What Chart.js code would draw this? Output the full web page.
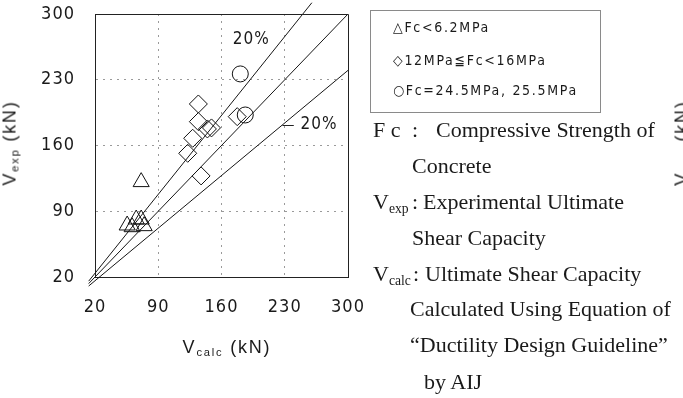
<!DOCTYPE html>
<html>
<head>
<meta charset="utf-8">
<script src="https://cdn.jsdelivr.net/npm/chart.js@4/dist/chart.umd.min.js"></script>
<style>
  html, body { margin: 0; padding: 0; background: #fff; }
  #wrap { position: relative; width: 683px; height: 398px; overflow: hidden; background: #fff; }
  #chart { position: absolute; left: 0; top: 0; }
  .sans { font-family: "Liberation Sans", Arial, sans-serif; color: #1a1a1a; }
  .cond { font-family: "DejaVu Sans Condensed", "Liberation Sans Narrow", "DejaVu Sans", sans-serif; color: #1a1a1a; }
  .serif { font-family: "Liberation Serif", "Times New Roman", serif; color: #1a1a1a; }
  .sub { font-size: 0.62em; position: relative; top: 0.28em; }
  .rot { position: absolute; white-space: nowrap; transform: translate(-50%, -50%) rotate(-90deg); font-size: 18px; letter-spacing: 1.8px; }
  .axt { position: absolute; white-space: nowrap; transform: translate(-50%, -50%); font-size: 18px; letter-spacing: 1.8px; }
  #legendBox { position: absolute; left: 370px; top: 10px; width: 231px; height: 103px; box-sizing: border-box; border: 1px solid #8a8a8a; }
  #legendBox .row { position: absolute; left: 22px; white-space: nowrap; font-size: 14px; letter-spacing: 1.7px; transform: translateY(-50%); }
  .note { position: absolute; white-space: nowrap; font-size: 22px; transform: translateY(-50%); }
</style>
</head>
<body>
<div id="wrap">
  <canvas id="chart" width="683" height="398"></canvas>

  <!-- axis titles -->
  <div class="rot sans" style="left:10px; top:143px;">V<span class="sub">exp</span> (kN)</div>
  <div class="axt sans" style="left:227px; top:347px;">V<span class="sub">calc</span> (kN)</div>
  <!-- neighbouring panel's axis title, cut by the page edge -->
  <div class="rot sans" style="left:682px; top:143px;">V<span class="sub">exp</span> (kN)</div>

  <!-- symbol key -->
  <div id="legendBox" class="cond">
    <div class="row" style="top:16px;">△Fc&lt;6.2MPa</div>
    <div class="row" style="top:49px;">◇12MPa≦Fc&lt;16MPa</div>
    <div class="row" style="top:79px;">○Fc=24.5MPa, 25.5MPa</div>
  </div>

  <!-- notation -->
  <div class="note serif" style="left:373px; top:130px;">F c</div>
  <div class="note serif" style="left:412px; top:130px;">:</div>
  <div class="note serif" style="left:436px; top:130px;">Compressive Strength of</div>
  <div class="note serif" style="left:412px; top:166px;">Concrete</div>
  <div class="note serif" style="left:373px; top:202px;">V<span class="sub">exp</span></div>
  <div class="note serif" style="left:412px; top:202px;">:</div>
  <div class="note serif" style="left:423px; top:202px;">Experimental Ultimate</div>
  <div class="note serif" style="left:412px; top:238px;">Shear Capacity</div>
  <div class="note serif" style="left:373px; top:274px;">V<span class="sub">calc</span></div>
  <div class="note serif" style="left:413px; top:274px;">:</div>
  <div class="note serif" style="left:425px; top:274px;">Ultimate Shear Capacity</div>
  <div class="note serif" style="left:410px; top:309px;">Calculated Using Equation of</div>
  <div class="note serif" style="left:410px; top:345px;">“Ductility Design Guideline”</div>
  <div class="note serif" style="left:424px; top:382px;">by AIJ</div>
</div>

<script>
// ---- data (kN) ----
// Fc < 6.2 MPa
const triCalc = [55.6, 61.1, 65.6, 71.1, 74.4, 71.1];
const triExp  = [75.0, 73.2, 81.4, 81.4, 74.3, 121.2];
// 12 MPa <= Fc < 16 MPa
const diaCalc = [134.4, 134.4, 144.4, 148.9, 128.1, 122.6, 137.4, 177.4];
const diaExp  = [204.2, 185.4, 177.6, 178.7, 167.7, 151.7, 127.6, 190.7];
// Fc = 24.5 MPa, 25.5 MPa
const cirCalc = [180.8, 186.3];
const cirExp  = [236.2, 192.5];

// axis ticks (both axes)
const tickValues = [20, 90, 160, 230, 300];

// reference lines: Vexp = ratio * Vcalc  (+20 %, equal, -20 %)
const lineRatios = [1.2, 1.0, 0.8];
const lineStartCalc = 13;
const lineEndCalc = [260, 300, 300];

const pairs = (xs, ys) => xs.map((v, i) => ({ x: v, y: ys[i] }));
const refLine = (r, i) => ([
  { x: lineStartCalc, y: r * lineStartCalc },
  { x: lineEndCalc[i], y: r * lineEndCalc[i] }
]);

const tickFont = { family: '"DejaVu Sans Condensed", "Liberation Sans Narrow", "DejaVu Sans", sans-serif', size: 18 };
const ink = '#1a1a1a';
const gridColor = c => (c.tick && (c.tick.value === 20 || c.tick.value === 300)) ? 'rgba(0,0,0,0)' : '#9a9a9a';

const frameAndLabels = {
  id: 'frameAndLabels',
  beforeDraw(chart) { chart.ctx.letterSpacing = '1px'; },
  beforeDatasetsDraw(chart) { chart.ctx.letterSpacing = '0px'; },
  afterDatasetsDraw(chart) {
    const { ctx, chartArea: a, scales: { x, y } } = chart;
    ctx.save();
    // closing frame (top and right)
    ctx.strokeStyle = '#222';
    ctx.lineWidth = 1;
    ctx.beginPath();
    ctx.moveTo(Math.round(a.left), Math.round(a.top) + 0.5);
    ctx.lineTo(Math.round(a.right) + 0.5, Math.round(a.top) + 0.5);
    ctx.lineTo(Math.round(a.right) + 0.5, Math.round(a.bottom));
    ctx.stroke();

    // ±20 % labels
    ctx.letterSpacing = '1px';
    ctx.font = '17px "DejaVu Sans Condensed", "DejaVu Sans", sans-serif';
    ctx.fillStyle = ink;
    ctx.textAlign = 'center';
    ctx.textBaseline = 'middle';
    ctx.fillText('20%', x.getPixelForValue(193), y.getPixelForValue(272.5));
    // leader from the -20 % line to its label
    const yl = y.getPixelForValue(182);
    ctx.beginPath();
    ctx.moveTo(x.getPixelForValue(182 / 0.8), Math.round(yl) + 0.5);
    ctx.lineTo(x.getPixelForValue(240), Math.round(yl) + 0.5);
    ctx.stroke();
    ctx.fillText('20%', x.getPixelForValue(268), yl);
    ctx.restore();
  }
};

const lineStyle = { showLine: true, borderColor: '#161616', borderWidth: 1, pointRadius: 0, clip: false, fill: false };
const markStyle = { borderColor: '#111', backgroundColor: 'rgba(255,255,255,0)', pointBorderWidth: 1, showLine: false };

new Chart(document.getElementById('chart'), {
  type: 'scatter',
  data: {
    datasets: [
      ...lineRatios.map((r, i) => Object.assign({ data: refLine(r, i) }, lineStyle)),
      Object.assign({ label: 'Fc<6.2MPa', data: pairs(triCalc, triExp), pointStyle: 'triangle', pointRadius: 9.3 }, markStyle),
      Object.assign({ label: '12MPa≦Fc<16MPa', data: pairs(diaCalc, diaExp), pointStyle: 'rectRot', pointRadius: 9 }, markStyle),
      Object.assign({ label: 'Fc=24.5MPa, 25.5MPa', data: pairs(cirCalc, cirExp), pointStyle: 'circle', pointRadius: 8 }, markStyle)
    ]
  },
  options: {
    responsive: false,
    animation: false,
    devicePixelRatio: 1,
    layout: { padding: { left: 0, top: 14, right: 335, bottom: 81 } },
    plugins: { legend: { display: false }, tooltip: { enabled: false } },
    scales: {
      x: {
        type: 'linear', min: 20, max: 300,
        afterBuildTicks: s => { s.ticks = tickValues.map(v => ({ value: v })); },
        afterFit: s => { s.height = 40; s.paddingLeft = 0; s.paddingRight = 0; },
        ticks: { font: tickFont, color: ink, padding: 20, maxRotation: 0 },
        grid: { drawTicks: false, color: gridColor },
        border: { display: true, color: '#222', width: 1, dash: [2, 5] }
      },
      y: {
        type: 'linear', min: 20, max: 300,
        afterBuildTicks: s => { s.ticks = tickValues.map(v => ({ value: v })); },
        afterFit: s => { s.width = 95; s.paddingTop = 0; s.paddingBottom = 0; },
        ticks: { font: tickFont, color: ink, padding: 20 },
        grid: { drawTicks: false, color: gridColor },
        border: { display: true, color: '#222', width: 1, dash: [2, 5] }
      }
    }
  },
  plugins: [frameAndLabels]
});
</script>
</body>
</html>
